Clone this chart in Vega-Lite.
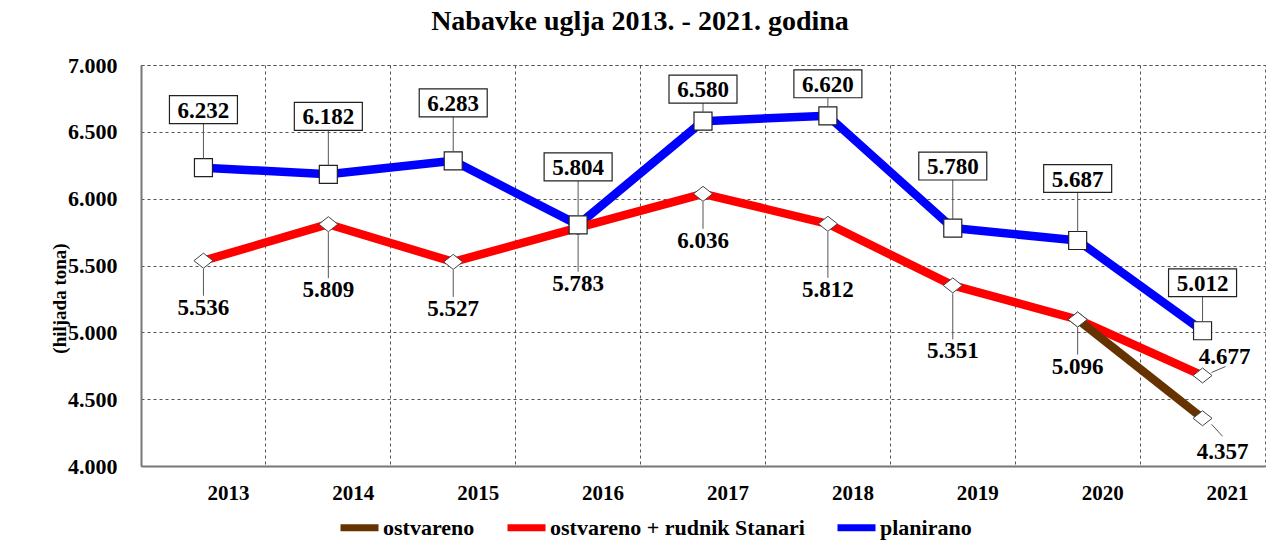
{
  "$schema": "https://vega.github.io/schema/vega-lite/v6.json",
  "autosize": "none",
  "width": 1124,
  "height": 401,
  "padding": {"left": 141, "top": 65, "right": 15, "bottom": 76},
  "background": "white",
  "title": {"text": "Nabavke uglja 2013. - 2021. godina", "font": "Liberation Serif", "fontSize": 28, "fontWeight": "bold", "color": "black", "anchor": "middle", "frame": "group", "dx": -63, "offset": 18},
  "data": {"values": [
    {"year": "2013", "series": "planirano", "value": 6232},
    {"year": "2014", "series": "planirano", "value": 6182},
    {"year": "2015", "series": "planirano", "value": 6283},
    {"year": "2016", "series": "planirano", "value": 5804},
    {"year": "2017", "series": "planirano", "value": 6580},
    {"year": "2018", "series": "planirano", "value": 6620},
    {"year": "2019", "series": "planirano", "value": 5780},
    {"year": "2020", "series": "planirano", "value": 5687},
    {"year": "2021", "series": "planirano", "value": 5012},
    {"year": "2013", "series": "ostvareno + rudnik Stanari", "value": 5536},
    {"year": "2014", "series": "ostvareno + rudnik Stanari", "value": 5809},
    {"year": "2015", "series": "ostvareno + rudnik Stanari", "value": 5527},
    {"year": "2016", "series": "ostvareno + rudnik Stanari", "value": 5783},
    {"year": "2017", "series": "ostvareno + rudnik Stanari", "value": 6036},
    {"year": "2018", "series": "ostvareno + rudnik Stanari", "value": 5812},
    {"year": "2019", "series": "ostvareno + rudnik Stanari", "value": 5351},
    {"year": "2020", "series": "ostvareno + rudnik Stanari", "value": 5096},
    {"year": "2021", "series": "ostvareno + rudnik Stanari", "value": 4677},
    {"year": "2020", "series": "ostvareno", "value": 5096},
    {"year": "2021", "series": "ostvareno", "value": 4357}
  ]},
  "encoding": {
    "x": {"field": "year", "type": "ordinal", "bandPosition": 0.5,
      "scale": {"type": "band", "paddingInner": 0, "paddingOuter": 0},
      "axis": {"title": null, "bandPosition": 0, "labelOffset": 25, "grid": true, "gridDash": [3, 3], "gridColor": "#555", "gridWidth": 1, "ticks": false, "domainColor": "#777", "domainWidth": 2, "labelFont": "Liberation Serif", "labelFontWeight": "bold", "labelFontSize": 21, "labelPadding": 16, "labelAngle": 0, "labelColor": "black"}},
    "y": {"field": "value", "type": "quantitative",
      "scale": {"domain": [4000, 7000], "nice": false, "zero": false},
      "axis": {"values": [4000, 4500, 5000, 5500, 6000, 6500, 7000], "format": ",d", "title": "(hiljada tona)", "titleFont": "Liberation Serif", "titleFontSize": 19, "titleFontWeight": "bold", "titleColor": "black", "titleX": -82, "titleY": 233, "titleAlign": "center", "titleBaseline": "middle", "grid": true, "gridDash": [3, 3], "gridColor": "#555", "gridWidth": 1, "ticks": false, "domainColor": "#777", "domainWidth": 2, "labelFont": "Liberation Serif", "labelFontWeight": "bold", "labelFontSize": 22, "labelPadding": 24, "labelColor": "black"}}
  },
  "layer": [
    {"mark": {"type": "line", "strokeWidth": 8.5, "strokeJoin": "round"},
     "encoding": {"color": {"field": "series", "type": "nominal",
       "scale": {"domain": ["ostvareno", "ostvareno + rudnik Stanari", "planirano"], "range": ["#663300", "#ff0000", "#0000ff"]},
       "legend": {"title": null, "orient": "none", "legendX": 196, "legendY": 440, "direction": "horizontal", "symbolType": "stroke", "symbolStrokeWidth": 7, "symbolSize": 1444, "labelFont": "Liberation Serif", "labelFontWeight": "bold", "labelFontSize": 22, "labelColor": "black", "labelOffset": 1, "columnPadding": 18, "labelLimit": 0}}}},
    {"transform": [{"filter": "datum.series != 'planirano'"}],
     "mark": {"type": "point", "shape": "M-1,0L0,-0.79L1,0L0,0.79Z", "size": 361, "filled": true, "fill": "white", "stroke": "#444", "strokeWidth": 1, "opacity": 1}},
    {"transform": [{"filter": "datum.series == 'planirano'"}],
     "mark": {"type": "point", "shape": "square", "size": 324, "filled": true, "fill": "white", "stroke": "#222", "strokeWidth": 1.2, "opacity": 1}},

    {"transform": [{"filter": {"and": [{"field": "series", "equal": "planirano"}, {"field": "year", "oneOf": ["2013", "2014", "2015", "2016"]}]}}],
     "layer": [
       {"mark": {"type": "rule", "stroke": "#555", "strokeWidth": 1, "yOffset": -9, "y2Offset": -44}, "encoding": {"y2": {"field": "value"}}},
       {"mark": {"type": "point", "shape": "M-1,-0.41L1,-0.41L1,0.41L-1,0.41Z", "size": 4624, "filled": true, "fill": "white", "stroke": "#222", "strokeWidth": 1.2, "opacity": 1, "yOffset": -58}},
       {"mark": {"type": "text", "yOffset": -57, "baseline": "middle", "font": "Liberation Serif", "fontWeight": "bold", "fontSize": 23, "color": "black"}, "encoding": {"text": {"field": "value", "type": "quantitative", "format": ",d"}}}
     ]},
    {"transform": [{"filter": {"and": [{"field": "series", "equal": "planirano"}, {"field": "year", "oneOf": ["2019", "2020"]}]}}],
     "layer": [
       {"mark": {"type": "rule", "stroke": "#555", "strokeWidth": 1, "yOffset": -9, "y2Offset": -48}, "encoding": {"y2": {"field": "value"}}},
       {"mark": {"type": "point", "shape": "M-1,-0.41L1,-0.41L1,0.41L-1,0.41Z", "size": 4624, "filled": true, "fill": "white", "stroke": "#222", "strokeWidth": 1.2, "opacity": 1, "yOffset": -62}},
       {"mark": {"type": "text", "yOffset": -61, "baseline": "middle", "font": "Liberation Serif", "fontWeight": "bold", "fontSize": 23, "color": "black"}, "encoding": {"text": {"field": "value", "type": "quantitative", "format": ",d"}}}
     ]},
    {"transform": [{"filter": {"and": [{"field": "series", "equal": "planirano"}, {"field": "year", "oneOf": ["2017", "2018"]}]}}],
     "layer": [
       {"mark": {"type": "rule", "stroke": "#555", "strokeWidth": 1, "yOffset": -9, "y2Offset": -18}, "encoding": {"y2": {"field": "value"}}},
       {"mark": {"type": "point", "shape": "M-1,-0.41L1,-0.41L1,0.41L-1,0.41Z", "size": 4624, "filled": true, "fill": "white", "stroke": "#222", "strokeWidth": 1.2, "opacity": 1, "yOffset": -32}},
       {"mark": {"type": "text", "yOffset": -31, "baseline": "middle", "font": "Liberation Serif", "fontWeight": "bold", "fontSize": 23, "color": "black"}, "encoding": {"text": {"field": "value", "type": "quantitative", "format": ",d"}}}
     ]},
    {"transform": [{"filter": {"and": [{"field": "series", "equal": "planirano"}, {"field": "year", "oneOf": ["2021"]}]}}],
     "layer": [
       {"mark": {"type": "rule", "stroke": "#555", "strokeWidth": 1, "yOffset": -9, "y2Offset": -34}, "encoding": {"y2": {"field": "value"}}},
       {"mark": {"type": "point", "shape": "M-1,-0.41L1,-0.41L1,0.41L-1,0.41Z", "size": 4624, "filled": true, "fill": "white", "stroke": "#222", "strokeWidth": 1.2, "opacity": 1, "yOffset": -48}},
       {"mark": {"type": "text", "yOffset": -47, "baseline": "middle", "font": "Liberation Serif", "fontWeight": "bold", "fontSize": 23, "color": "black"}, "encoding": {"text": {"field": "value", "type": "quantitative", "format": ",d"}}}
     ]},

    {"transform": [{"filter": {"and": [{"field": "series", "equal": "ostvareno + rudnik Stanari"}, {"field": "year", "oneOf": ["2013", "2015", "2017", "2020"]}]}}],
     "layer": [
       {"mark": {"type": "rule", "stroke": "#555", "strokeWidth": 1, "yOffset": 8, "y2Offset": 35}, "encoding": {"y2": {"field": "value"}}},
       {"mark": {"type": "text", "yOffset": 47, "baseline": "middle", "font": "Liberation Serif", "fontWeight": "bold", "fontSize": 23, "color": "black"}, "encoding": {"text": {"field": "value", "type": "quantitative", "format": ",d"}}}
     ]},
    {"transform": [{"filter": {"and": [{"field": "series", "equal": "ostvareno + rudnik Stanari"}, {"field": "year", "oneOf": ["2016"]}]}}],
     "layer": [
       {"mark": {"type": "rule", "stroke": "#555", "strokeWidth": 1, "yOffset": 8, "y2Offset": 44}, "encoding": {"y2": {"field": "value"}}},
       {"mark": {"type": "text", "yOffset": 56, "baseline": "middle", "font": "Liberation Serif", "fontWeight": "bold", "fontSize": 23, "color": "black"}, "encoding": {"text": {"field": "value", "type": "quantitative", "format": ",d"}}}
     ]},
    {"transform": [{"filter": {"and": [{"field": "series", "equal": "ostvareno + rudnik Stanari"}, {"field": "year", "oneOf": ["2014", "2018", "2019"]}]}}],
     "layer": [
       {"mark": {"type": "rule", "stroke": "#555", "strokeWidth": 1, "yOffset": 8, "y2Offset": 54}, "encoding": {"y2": {"field": "value"}}},
       {"mark": {"type": "text", "yOffset": 66, "baseline": "middle", "font": "Liberation Serif", "fontWeight": "bold", "fontSize": 23, "color": "black"}, "encoding": {"text": {"field": "value", "type": "quantitative", "format": ",d"}}}
     ]},
    {"transform": [{"filter": {"and": [{"field": "series", "equal": "ostvareno + rudnik Stanari"}, {"field": "year", "oneOf": ["2021"]}]}}],
     "layer": [
       {"mark": {"type": "rule", "stroke": "#555", "strokeWidth": 1, "xOffset": 9, "x2Offset": 23, "yOffset": -3, "y2Offset": -9}, "encoding": {"x2": {"field": "year", "bandPosition": 0.5}, "y2": {"field": "value"}}},
       {"mark": {"type": "text", "xOffset": 22, "yOffset": -19, "baseline": "middle", "font": "Liberation Serif", "fontWeight": "bold", "fontSize": 23, "color": "black"}, "encoding": {"text": {"field": "value", "type": "quantitative", "format": ",d"}}}
     ]},
    {"transform": [{"filter": {"and": [{"field": "series", "equal": "ostvareno"}, {"field": "year", "oneOf": ["2021"]}]}}],
     "layer": [
       {"mark": {"type": "rule", "stroke": "#555", "strokeWidth": 1, "xOffset": 9, "x2Offset": 20, "yOffset": 6, "y2Offset": 18}, "encoding": {"x2": {"field": "year", "bandPosition": 0.5}, "y2": {"field": "value"}}},
       {"mark": {"type": "text", "xOffset": 20, "yOffset": 34, "baseline": "middle", "font": "Liberation Serif", "fontWeight": "bold", "fontSize": 23, "color": "black"}, "encoding": {"text": {"field": "value", "type": "quantitative", "format": ",d"}}}
     ]}
  ],
  "config": {
    "locale": {"number": {"decimal": ",", "thousands": ".", "grouping": [3], "currency": ["", ""]}},
    "view": {"stroke": "#666", "strokeDash": [3, 3], "strokeWidth": 1},
    "font": "Liberation Serif"
  }
}
